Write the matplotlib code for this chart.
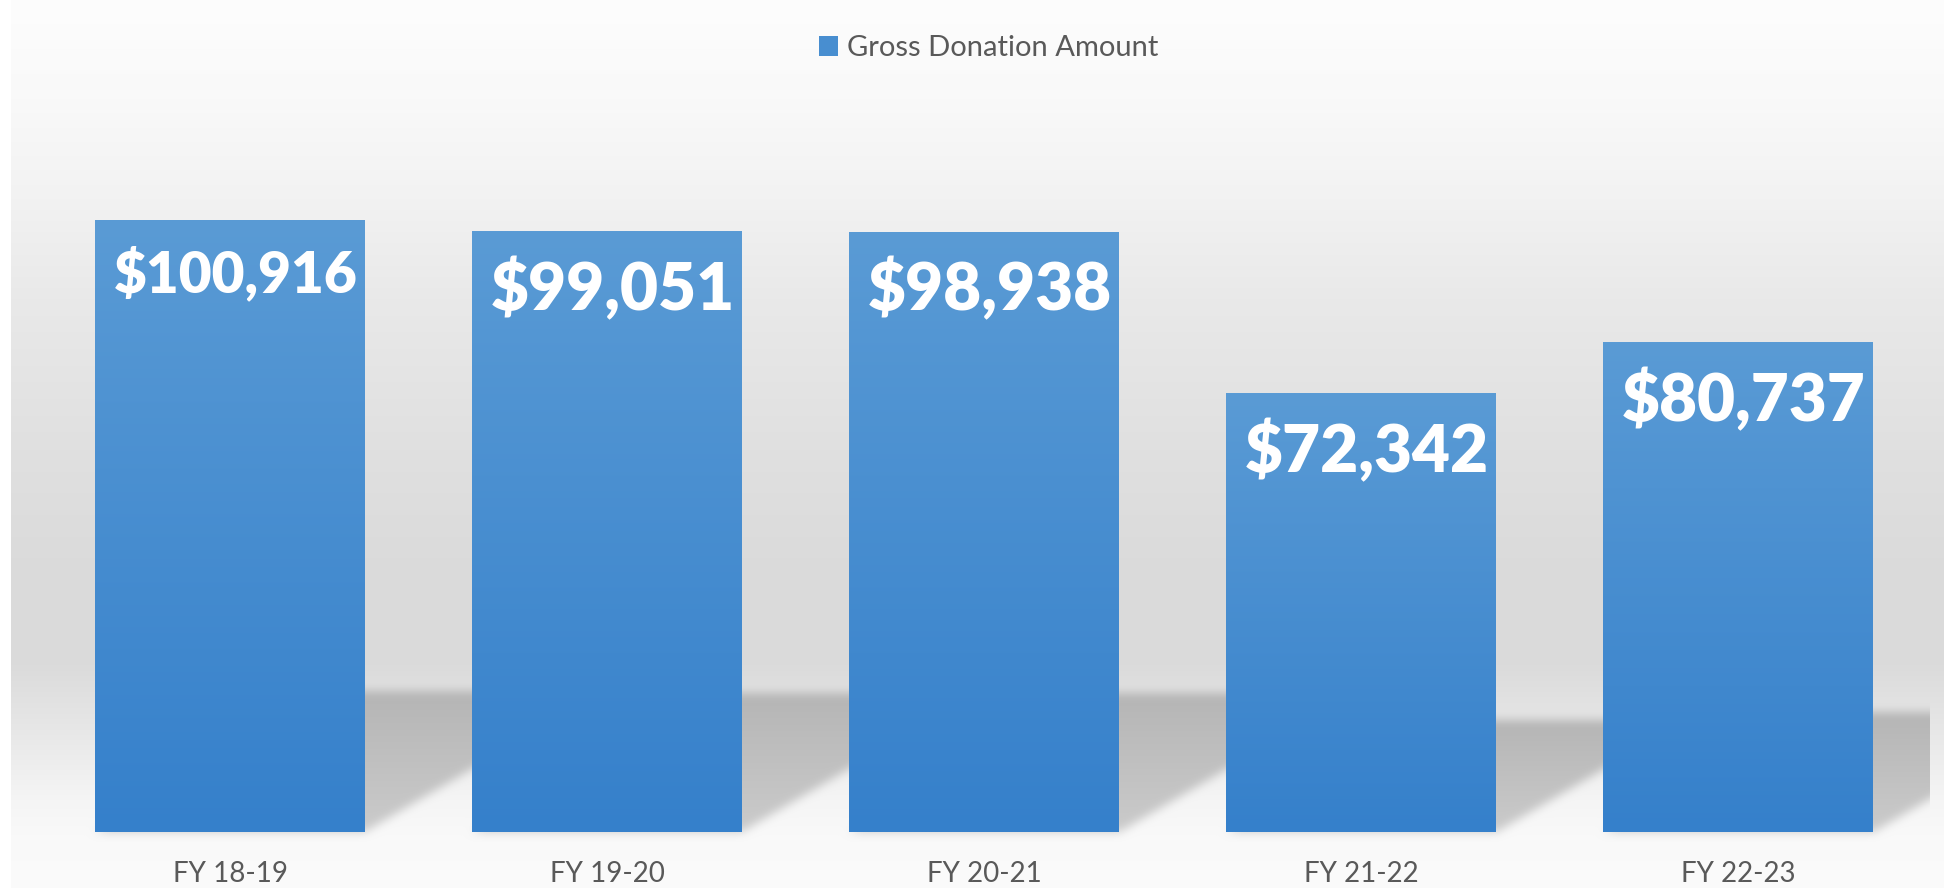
import numpy as np
import matplotlib
matplotlib.use("Agg")
import matplotlib.pyplot as plt
from matplotlib.patches import Rectangle

# ---------------- data ----------------
categories = ["FY 18-19", "FY 19-20", "FY 20-21", "FY 21-22", "FY 22-23"]
amounts = [100916, 99051, 98938, 72342, 80737]
series_name = "Gross Donation Amount"

# ---------------- layout / style ----------------
W, H = 1944, 888
DPI = 100
plt.rcParams['font.family'] = ['Lato', 'DejaVu Sans']

AX_L, AX_R = 41.5, 1926.5       # pixel extents of plot area (from left)
AX_B, AX_T = 832.0, 104.0       # pixel extents (from top)
Y_MAX = 120000
GAP_WIDTH = 0.40                # Excel-style gap width
TOP_C = np.array([90, 155, 213]) / 255.0
BOT_C = np.array([53, 128, 203]) / 255.0
TEXT_GRAY = '#595959'

fig = plt.figure(figsize=(W / DPI, H / DPI), dpi=DPI)
fig.patch.set_facecolor('white')

ax = fig.add_axes([AX_L / W, 1 - AX_B / H, (AX_R - AX_L) / W, (AX_B - AX_T) / H])
ax.set_facecolor('none')
xpos = np.arange(len(categories))
bars = ax.bar(xpos, amounts, width=1 / (1 + GAP_WIDTH), color=(BOT_C + TOP_C) / 2,
              zorder=2, linewidth=0)

# gradient fill clipped to each bar
grad = np.linspace(0, 1, 256)[:, None, None]
grad_img = TOP_C[None, None, :] * (1 - grad) + BOT_C[None, None, :] * grad
for b in bars:
    x0, w, h = b.get_x(), b.get_width(), b.get_height()
    im = ax.imshow(grad_img, extent=[x0, x0 + w, 0, h], aspect='auto',
                   interpolation='bilinear', zorder=3)
    im.set_clip_path(b)

ax.set_xlim(-0.5, len(categories) - 0.5)
ax.set_ylim(0, Y_MAX)
ax.set_xticks(xpos, categories)
ax.set_yticks([])
ax.tick_params(axis='x', length=0, pad=21, labelsize=20, labelcolor=TEXT_GRAY)
for s in ax.spines.values():
    s.set_visible(False)

# ---------------- background + perspective shadows (rendered as an image) ----------------
rows = np.arange(H) + 0.5           # from top
cols = np.arange(W) + 0.5
stops_y = [0, 100, 200, 300, 450, 580, 660, 735, 800, 835, 888]
stops_v = [253, 249, 242, 233, 224, 218, 218, 232, 245, 249, 251]
bg_col = np.interp(rows, stops_y, stops_v)
bg = np.repeat(bg_col[:, None], W, axis=1)
bg[:, cols < 11] = 255.0

YY = (H - rows)[:, None] * np.ones((1, W))   # display y (from bottom)
XX = np.ones((H, 1)) * cols[None, :]

SHEAR = 1.7
mask = np.zeros((H, W))
shade = np.zeros((H, W))
trans = ax.transData
for b in bars:
    x0, w, h = b.get_x(), b.get_width(), b.get_height()
    px0, py0 = trans.transform((x0, 0))
    px1, py1 = trans.transform((x0 + w, h))
    bar_h = py1 - py0
    sh_h = 38 + 0.168 * bar_h
    d = YY - py0
    inside = (d >= 0) & (d <= sh_h) & (XX >= px0 + SHEAR * d) & (XX <= px1 + SHEAR * d)
    g = 203 - 22 * np.clip(d / sh_h, 0, 1)
    newm = inside & (mask == 0)
    mask[newm] = 1
    shade[newm] = g[newm]


def box_blur(a, r, axis):
    pad = [(0, 0)] * a.ndim
    pad[axis] = (r, r)
    ap = np.pad(a, pad, mode='edge')
    c = np.cumsum(ap, axis=axis)
    c = np.insert(c, 0, 0, axis=axis)
    n = a.shape[axis]
    hi = [slice(None)] * a.ndim
    lo = [slice(None)] * a.ndim
    hi[axis] = slice(2 * r + 1, 2 * r + 1 + n)
    lo[axis] = slice(0, n)
    return (c[tuple(hi)] - c[tuple(lo)]) / (2 * r + 1)


def blur(a, r=4, passes=3):
    for _ in range(passes):
        a = box_blur(a, r, 0)
        a = box_blur(a, r, 1)
    return a


m_b = blur(mask)
s_b = blur(shade * mask)
col = np.where(m_b > 1e-4, s_b / np.maximum(m_b, 1e-4), 0)
m_b[:, cols > AX_R + 2] = 0
out = bg * (1 - m_b) + col * m_b
img = np.clip(out / 255.0, 0, 1)
img = np.repeat(img[:, :, None], 3, axis=2)

bg_ax = fig.add_axes([0, 0, 1, 1], zorder=-1)
bg_ax.imshow(img, extent=[0, W, 0, H], aspect='auto', interpolation='nearest')
bg_ax.set_axis_off()

# ---------------- data labels (fit to bar width) ----------------
renderer = fig.canvas.get_renderer()
for b, v in zip(bars, amounts):
    cx = b.get_x() + b.get_width() / 2
    t = ax.annotate(f"${v:,}", xy=(cx, v), xytext=(4, -18.5), textcoords='offset points',
                    ha='center', va='top', color='white', fontsize=40,
                    fontweight='heavy', zorder=6)
    bb = t.get_window_extent(renderer)
    bw = trans.transform((b.get_x() + b.get_width(), 0))[0] - trans.transform((b.get_x(), 0))[0]
    t.set_fontsize(40 * 0.905 * bw / bb.width)

# ---------------- legend ----------------
handle = Rectangle((0, 0), 1, 1, facecolor=(TOP_C + BOT_C) / 2, linewidth=0)
fig.legend(handles=[handle], labels=[series_name], loc='center',
           bbox_to_anchor=(988.5 / W, 1 - 48 / H), frameon=False, fontsize=21,
           handlelength=0.66, handleheight=0.66, handletextpad=0.3,
           labelcolor=TEXT_GRAY)

fig.savefig('out.png', dpi=DPI)
